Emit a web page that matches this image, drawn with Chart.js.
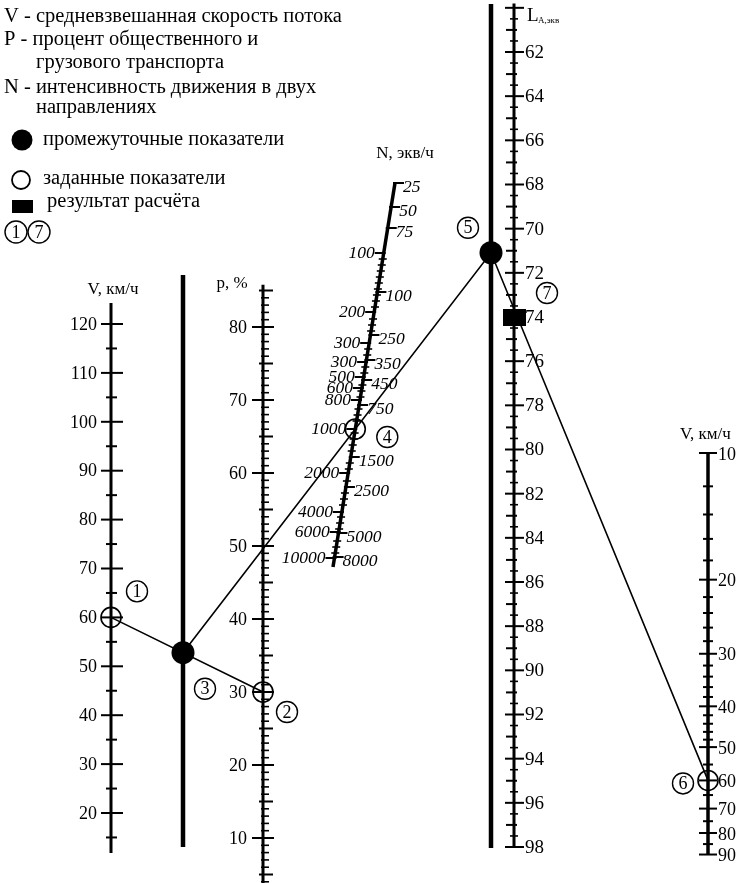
<!DOCTYPE html>
<html>
<head>
<meta charset="utf-8">
<script src="https://cdn.jsdelivr.net/npm/chart.js@4.4.0/dist/chart.umd.min.js"></script>
<style>
  html, body { margin: 0; padding: 0; background: #fff; }
  #c { display: block; }
</style>
</head>
<body>
<canvas id="c" width="747" height="883"></canvas>
<script>
/* Nomogram: equivalent noise level L_A from V, p and N */

// ---- scale readings ----
const vLeftTicks = [20, 30, 40, 50, 60, 70, 80, 90, 100, 110, 120];
const vLeftMinor = [15, 25, 35, 45, 55, 65, 75, 85, 95, 105, 115];
const pTicks = [10, 20, 30, 40, 50, 60, 70, 80];
const laTicks = [62, 64, 66, 68, 70, 72, 74, 76, 78, 80, 82, 84, 86, 88, 90, 92, 94, 96, 98];
const vRightTicks = [10, 20, 30, 40, 50, 60, 70, 80, 90];
const vRightMinor = [12, 14, 16, 18, 22, 24, 26, 28, 32, 34, 36, 38, 42, 44, 46, 48, 55, 65, 75, 85];
const nLeftLabels = ["100", "200", "300", "300", "500", "600", "800", "1000", "2000", "4000", "6000", "10000"];
const nRightLabels = ["25", "50", "75", "100", "250", "350", "450", "750", "1500", "2500", "5000", "8000"];

// ---- worked example ----
const givenV = 60;      // (1)
const givenP = 30;      // (2)
const givenN = "1000";  // (4), left N scale
const givenV2 = 60;     // (6)
const resultLA = 74;    // (7)

const legendLines = [
  "V - средневзвешанная скорость потока",
  "P - процент общественного и",
  "грузового транспорта",
  "N - интенсивность движения в двух",
  "направлениях"
];

// ---- layout (canvas px) ----
const W = 747, H = 883;
const SERIF = '"Liberation Serif", "Times New Roman", serif';
const X_VL = 111, X_M1 = 183, X_P = 263, X_M2 = 491, X_LA = 514, X_VR = 708;
const N_TOP = { x: 395, y: 183 }, N_BOT = { x: 333, y: 567 };
const N_LEFT_Y = [253, 312, 343, 362, 377, 388, 400, 429, 473, 512, 532, 558];
const N_RIGHT_Y = [183, 207, 228, 292, 335, 360, 380, 405, 457, 487, 533, 557];

// value <-> canvas row anchors for each axis
function linRange(v1, y1, v2, y2) {
  const k = (v2 - v1) / (y2 - y1);
  const a = v1 - y1 * k, b = v1 + (H - y1) * k;
  return { type: "linear", display: false, bounds: "data", min: Math.min(a, b), max: Math.max(a, b), reverse: k > 0 };
}
function logRange(v1, y1, v2, y2) {
  const l1 = Math.log10(v1), k = (Math.log10(v2) - l1) / (y2 - y1);
  const a = l1 - y1 * k, b = l1 + (H - y1) * k;
  return { type: "logarithmic", display: false, bounds: "data", min: Math.pow(10, Math.min(a, b)), max: Math.pow(10, Math.max(a, b)), reverse: k > 0 };
}

function nX(y) {
  return N_TOP.x + (y - N_TOP.y) * (N_BOT.x - N_TOP.x) / (N_BOT.y - N_TOP.y);
}
const nY = N_LEFT_Y[nLeftLabels.indexOf(givenN)];

// black rectangle marker for the result
const rectMarker = document.createElement("canvas");
rectMarker.width = 23; rectMarker.height = 17;
(function () { const g = rectMarker.getContext("2d"); g.fillStyle = "#000"; g.fillRect(0, 0, 23, 17); })();

function spine(data, axis, width) {
  return { type: "line", data: data, yAxisID: axis, borderColor: "#000", borderWidth: width, pointRadius: 0, fill: false, clip: false, order: 2 };
}
function marker(pt, axis, style) {
  return Object.assign({ type: "scatter", data: [pt], yAxisID: axis, clip: false, order: 1 }, style);
}
const openCircle = { pointStyle: "circle", pointRadius: 10, pointBorderWidth: 1.6, pointBorderColor: "#000", pointBackgroundColor: "rgba(0,0,0,0)" };

function circled(ctx, x, y, txt, r) {
  ctx.beginPath();
  ctx.lineWidth = 1.4;
  ctx.arc(x, y, r, 0, Math.PI * 2);
  ctx.stroke();
  ctx.font = "18px " + SERIF;
  ctx.textAlign = "center";
  ctx.textBaseline = "middle";
  ctx.fillText(txt, x, y + 1);
}

function tick(ctx, x, y, left, right, w) {
  ctx.lineWidth = w;
  ctx.beginPath();
  ctx.moveTo(x - left, y);
  ctx.lineTo(x + right, y);
  ctx.stroke();
}

const nomogram = {
  id: "nomogram",
  afterDatasetsDraw(chart) {
    const ctx = chart.ctx;
    const sx = chart.scales.x, sy = chart.scales.y;
    const s = chart.scales;
    ctx.save();
    ctx.strokeStyle = "#000";
    ctx.fillStyle = "#000";

    // V left
    const xvl = sx.getPixelForValue(X_VL);
    vLeftMinor.forEach(v => tick(ctx, xvl, s.vL.getPixelForValue(v), 5, 6, 2));
    ctx.font = "18px " + SERIF; ctx.textAlign = "right"; ctx.textBaseline = "middle";
    vLeftTicks.forEach(v => {
      const y = s.vL.getPixelForValue(v);
      tick(ctx, xvl, y, 10, 12, 2);
      ctx.fillText(String(v), xvl - 14, y + 1);
    });

    // p
    const xp = sx.getPixelForValue(X_P);
    for (let v = 4; v <= 85; v++) {
      const y = s.p.getPixelForValue(v);
      if (v % 10 === 0) tick(ctx, xp, y, 11, 11, 2);
      else if (v % 5 === 0) tick(ctx, xp, y, 4, 10, 2);
      else tick(ctx, xp, y, 2, 6, 1.6);
    }
    ctx.textAlign = "right";
    pTicks.forEach(v => ctx.fillText(String(v), xp - 16, s.p.getPixelForValue(v) + 1));

    // L_A
    const xla = sx.getPixelForValue(X_LA);
    for (let v = 60; v <= 98; v += 0.5) {
      const y = s.la.getPixelForValue(v);
      if (v % 2 === 0) tick(ctx, xla, y, 9, 10, 2);
      else if (v % 1 === 0) tick(ctx, xla, y, 8, 3, 2);
      else tick(ctx, xla, y, 4, 4, 1.6);
    }
    ctx.font = "19px " + SERIF;
    ctx.textAlign = "left";
    laTicks.forEach(v => ctx.fillText(String(v), xla + 11, s.la.getPixelForValue(v) + 1));

    // V right (log)
    const xvr = sx.getPixelForValue(X_VR);
    ctx.font = "18px " + SERIF;
    vRightMinor.forEach(v => tick(ctx, xvr, s.vR.getPixelForValue(v), 5, 5, 2));
    vRightTicks.forEach(v => {
      const y = s.vR.getPixelForValue(v);
      tick(ctx, xvr, y, 9, 9, 2);
      ctx.fillText(String(v), xvr + 10, y + 2);
    });

    // N (slanted)
    const labelled = N_LEFT_Y.concat(N_RIGHT_Y);
    for (let y = 259; y <= 556; y += 6) {
      if (labelled.some(t => Math.abs(t - y) < 3)) continue;
      tick(ctx, sx.getPixelForValue(nX(y)), sy.getPixelForValue(y), 4, 4, 1.6);
    }
    ctx.font = "italic 17.5px " + SERIF;
    N_LEFT_Y.forEach((y, i) => {
      const px = sx.getPixelForValue(nX(y)), py = sy.getPixelForValue(y);
      tick(ctx, px, py, 9, 2, 2);
      ctx.textAlign = "right";
      ctx.fillText(nLeftLabels[i], px - 9, py);
    });
    N_RIGHT_Y.forEach((y, i) => {
      const px = sx.getPixelForValue(nX(y)), py = sy.getPixelForValue(y);
      tick(ctx, px, py, 2, 9, 2);
      ctx.textAlign = "left";
      ctx.fillText(nRightLabels[i], px + 8, py + 4);
    });

    // axis titles
    ctx.font = "17px " + SERIF; ctx.textBaseline = "middle";
    ctx.textAlign = "center";
    ctx.fillText("V, км/ч", xvl + 2, 290);
    ctx.fillText("p, %", xp - 31, 284);
    ctx.fillText("N, экв/ч", 405, 154);
    ctx.textAlign = "left";
    ctx.fillText("V, км/ч", 680, 435);
    ctx.font = "19px " + SERIF;
    ctx.fillText("L", 527, 16);
    ctx.font = "9px " + SERIF;
    ctx.fillText("A,экв", 538, 21);

    // key line: 1 -> 2 gives 3, 3 -> 4 gives 5, 5 -> 6 reads 7
    const p1 = { x: xvl, y: s.vL.getPixelForValue(givenV) };
    const p2 = { x: xp, y: s.p.getPixelForValue(givenP) };
    const p4 = { x: sx.getPixelForValue(nX(nY)), y: sy.getPixelForValue(nY) };
    const p6 = { x: xvr, y: s.vR.getPixelForValue(givenV2) };
    const xm1 = sx.getPixelForValue(X_M1), xm2 = sx.getPixelForValue(X_M2);
    const p3 = { x: xm1, y: p1.y + (p2.y - p1.y) * (xm1 - p1.x) / (p2.x - p1.x) };
    const p5 = { x: xm2, y: p3.y + (p4.y - p3.y) * (xm2 - p3.x) / (p4.x - p3.x) };
    ctx.lineWidth = 1.6;
    ctx.beginPath();
    ctx.moveTo(p1.x, p1.y); ctx.lineTo(p2.x, p2.y);
    ctx.moveTo(p3.x, p3.y); ctx.lineTo(p5.x, p5.y);
    ctx.lineTo(p6.x, p6.y);
    ctx.stroke();
    [p3, p5].forEach(p => { ctx.beginPath(); ctx.arc(p.x, p.y, 11.5, 0, Math.PI * 2); ctx.fill(); });

    // circled step numbers
    circled(ctx, p1.x + 26, p1.y - 26, "1", 10.5);
    circled(ctx, p2.x + 24, p2.y + 20, "2", 10.5);
    circled(ctx, p3.x + 22, p3.y + 36, "3", 10.5);
    circled(ctx, p4.x + 32, p4.y + 8, "4", 10.5);
    circled(ctx, p5.x - 23, p5.y - 25, "5", 10.5);
    circled(ctx, xla + 33, s.la.getPixelForValue(resultLA) - 24, "7", 10.5);
    circled(ctx, p6.x - 25, p6.y + 3, "6", 10.5);

    // legend
    ctx.font = "20.5px " + SERIF; ctx.textAlign = "left"; ctx.textBaseline = "middle";
    const legY = [17, 40, 63, 88, 108];
    legendLines.forEach((t, i) => ctx.fillText(t, (i === 2 || i === 4) ? 36 : 4, legY[i]));
    ctx.beginPath(); ctx.arc(22, 140, 10.5, 0, Math.PI * 2); ctx.fill();
    ctx.lineWidth = 1.8;
    ctx.beginPath(); ctx.arc(21, 180, 9, 0, Math.PI * 2); ctx.stroke();
    ctx.fillRect(12, 200, 21, 13);
    ctx.fillText("промежуточные показатели", 43, 140);
    ctx.fillText("заданные показатели", 43, 179);
    ctx.fillText("результат расчёта", 47, 202);
    circled(ctx, 16, 232, "1", 11);
    circled(ctx, 39, 232, "7", 11);

    ctx.restore();
  }
};

new Chart(document.getElementById("c"), {
  data: {
    datasets: [
      spine([{ x: X_VL, y: 11.8 }, { x: X_VL, y: 124.3 }], "vL", 3),
      spine([{ x: X_P, y: 0 }, { x: X_P, y: 85.8 }], "p", 3),
      spine([{ x: X_LA, y: 59.8 }, { x: X_LA, y: 98 }], "la", 3),
      spine([{ x: X_VR, y: 10 }, { x: X_VR, y: 90 }], "vR", 3.5),
      spine([{ x: X_M1, y: 275 }, { x: X_M1, y: 847 }], "y", 4.5),
      spine([{ x: X_M2, y: 4 }, { x: X_M2, y: 848 }], "y", 4.5),
      spine([N_TOP, N_BOT], "y", 3.5),
      marker({ x: X_VL, y: givenV }, "vL", openCircle),
      marker({ x: X_P, y: givenP }, "p", openCircle),
      marker({ x: nX(nY), y: nY }, "y", openCircle),
      marker({ x: X_VR, y: givenV2 }, "vR", openCircle),
      marker({ x: X_LA, y: resultLA }, "la", { pointStyle: rectMarker, pointRadius: 10 })
    ]
  },
  options: {
    responsive: false,
    animation: false,
    events: [],
    layout: { padding: 0, autoPadding: false },
    plugins: { legend: { display: false }, tooltip: { enabled: false } },
    scales: {
      x: { type: "linear", display: false, bounds: "data", min: 0, max: W },
      y: { type: "linear", display: false, bounds: "data", min: 0, max: H, reverse: true },
      vL: linRange(120, 324, 20, 813),
      p: linRange(80, 327, 10, 838),
      la: linRange(62, 52, 98, 847),
      vR: logRange(10, 453, 80, 833)
    }
  },
  plugins: [nomogram]
});
</script>
</body>
</html>
